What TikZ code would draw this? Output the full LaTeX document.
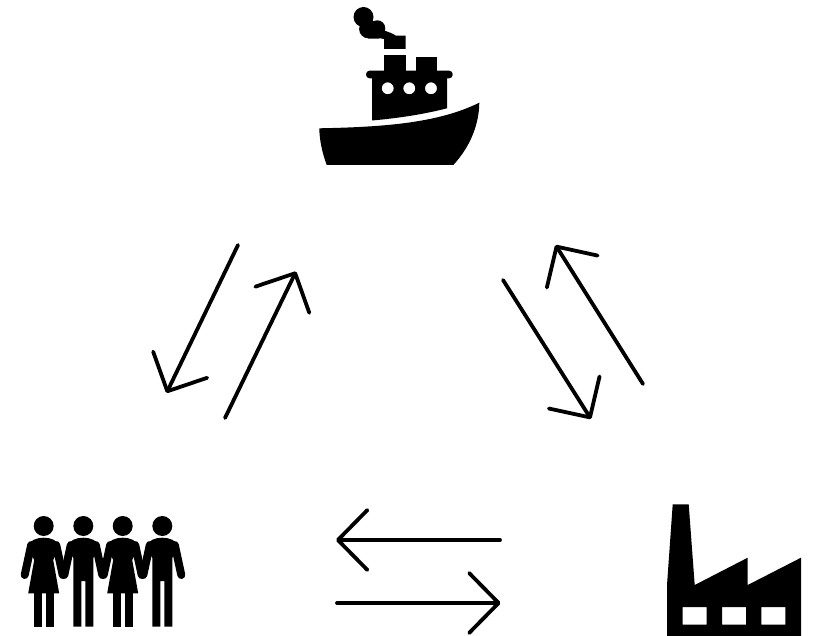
\documentclass[tikz,border=0pt]{standalone}
\usepackage{xcolor}
\usetikzlibrary{arrows.meta}
\tikzset{
  flowarrow/.style={line width=3.8pt, line cap=round, line join=round, -{Straight Barb[length=29.5pt, width=60pt, line width=3.8pt, round]}},
  iconfill/.style={fill=black, draw=none}
}

\begin{document}
\begin{tikzpicture}[x=1pt, y=-1pt]
        \useasboundingbox (0,0) rectangle (813,636);

        % ship: smoke
        \fill[iconfill] (363.5,17) circle (10);
        \fill[iconfill] (368.5,29) circle (9.4);
        \fill[iconfill] (377.3,28.3) circle (8);
        \fill[iconfill] (368,38.4) .. controls (376,39.5) and (380,37.5) .. (384,39) -- (384,49) -- (405.7,49) -- (405.7,35.7) -- (396,35.7)
          .. controls (392,33) and (388,32) .. (383,30) -- (372,30) -- cycle;
        % ship: funnels and roof
        \fill[iconfill] (384,55) rectangle (405.7,72);
        \fill[iconfill] (415.7,57) rectangle (437,72);
        \fill[iconfill, rounded corners=3.5] (366,70.7) rectangle (452.7,78.3);
        % ship: cabin, with portholes cut out
        \fill[iconfill, even odd rule] (372,75) -- (447,75) -- (447,108.3) .. controls (425,114) and (400,118) .. (372,120.5) -- cycle
          (387.7,88.3) circle (6) (409.3,88.3) circle (6) (431,88.3) circle (6);
        % ship: hull
        \fill[iconfill] (319.3,128.3) .. controls (390,127) and (440,122) .. (479.3,102.7) .. controls (479,125) and (470,147) .. (453.3,165)
          -- (326.7,165) .. controls (322,152) and (319.5,140) .. (319.3,128.3) -- cycle;

        % people: heads and arms
        \foreach \x in {43.7, 83.3, 122.7, 162.3}{
          \fill[iconfill] (\x,526) circle (10);
          \draw[line width=8pt, line cap=round] (\x-12.5,545) -- (\x-19,575);
          \draw[line width=8pt, line cap=round] (\x+12.5,545) -- (\x+19,575);
        }
        % men
        \foreach \x in {83.3, 162.3}{
          \fill[iconfill] (\x-16,547) .. controls (\x-14,540) and (\x-7,537.7) .. (\x,537.7) .. controls (\x+7,537.7) and (\x+14,540) .. (\x+16,547)
            -- (\x+10,558) -- (\x+10,626.7) -- (\x+2,626.7) -- (\x+2,581) -- (\x-2,581) -- (\x-2,626.7) -- (\x-10,626.7) -- (\x-10,558) -- cycle;
        }
        % women
        \foreach \x in {43.7, 122.7}{
          \fill[iconfill] (\x-16,547) .. controls (\x-14,540) and (\x-7,537.7) .. (\x,537.7) .. controls (\x+7,537.7) and (\x+14,540) .. (\x+16,547)
            -- (\x+9.5,560) -- (\x+15.5,593.3) -- (\x-15.5,593.3) -- (\x-9.5,560) -- cycle;
          \fill[iconfill] (\x-10,592) rectangle (\x-2,626.7);
          \fill[iconfill] (\x+2,592) rectangle (\x+10,626.7);
        }

        % factory
        \fill[iconfill, even odd rule] (672.7,504.3) -- (688.7,504.3) -- (694.7,585) -- (747.7,557.7) -- (747.7,585) -- (801,557.7) -- (801,636) -- (667,636) -- (667,585) -- cycle
          (682.7,607) rectangle (706.7,624.7) (722,607) rectangle (746,624.7) (761.3,607) rectangle (785.3,624.7);

        % arrow ends
        \coordinate (shipLeftA) at (238,245);
        \coordinate (peopleTopA) at (166.5,393);
        \coordinate (peopleTopB) at (225,418);
        \coordinate (shipLeftB) at (296,271.5);
        \coordinate (shipRightA) at (503,280);
        \coordinate (factoryTopA) at (591,419);
        \coordinate (factoryTopB) at (643,384);
        \coordinate (shipRightB) at (555.5,245);
        \coordinate (factoryLeftA) at (500,540);
        \coordinate (peopleRightA) at (336,540);
        \coordinate (peopleRightB) at (337,603);
        \coordinate (factoryLeftB) at (500.5,603);

        \foreach \a/\b in {shipLeftA/peopleTopA, peopleTopB/shipLeftB, shipRightA/factoryTopA,
                           factoryTopB/shipRightB, factoryLeftA/peopleRightA, peopleRightB/factoryLeftB}{
          \draw[flowarrow] (\a) -- (\b);
        }
      \end{tikzpicture}
\end{document}
